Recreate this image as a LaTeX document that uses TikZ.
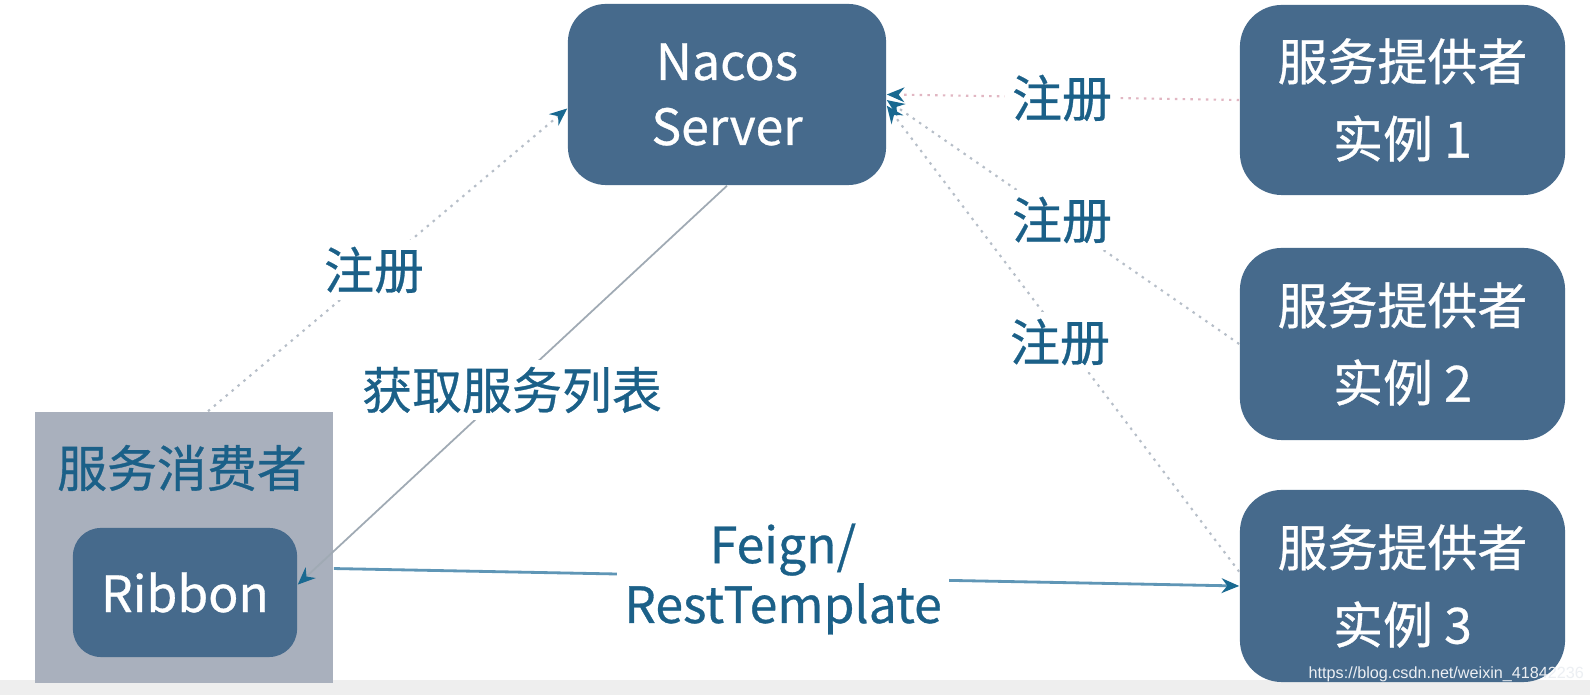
\documentclass[tikz,border=0pt]{standalone}
\usepackage{fontspec}
\setmainfont{Noto Sans CJK SC}[FakeBold=0.6]
\newfontfamily\wmfont{Liberation Sans}
\usetikzlibrary{arrows.meta}
\definecolor{boxblue}{RGB}{70,106,140}
\definecolor{consgrey}{RGB}{169,176,189}
\definecolor{labelblue}{RGB}{27,96,136}
\definecolor{dotgrey}{RGB}{182,190,200}
\definecolor{dotpink}{RGB}{225,182,194}
\definecolor{arrowteal}{RGB}{25,105,145}
\definecolor{feignline}{RGB}{95,150,182}
\definecolor{listline}{RGB}{160,170,180}
\definecolor{bandgrey}{RGB}{238,238,238}
\definecolor{wmcol}{RGB}{236,239,243}
\begin{document}
\begin{tikzpicture}[x=0.01cm,y=-0.01cm,
  bluebox/.style={rectangle, rounded corners=0.38cm, fill=boxblue, text=white, align=center, inner sep=0pt},
  lbl/.style={fill=white, text=labelblue, inner sep=2pt, font=\fontsize{14.2}{17}\selectfont, align=center},
  tip/.style={-{Stealth[length=5pt,width=4.2pt,color=arrowteal]}},
  dots/.style={tip, draw=dotgrey, line width=0.6pt, dash pattern=on 0.7pt off 1.5pt},
]
\useasboundingbox (0,0) rectangle (1590,695);
\fill[white] (0,0) rectangle (1590,695);
\fill[bandgrey] (0,680) rectangle (1590,695);

% nodes
\node[bluebox, minimum width=3.18cm, minimum height=1.81cm, font=\fontsize{14.2}{18.5}\selectfont] (nacos) at (727,94.5) {Nacos\\Server};
\node[bluebox, rounded corners=0.42cm, minimum width=3.25cm, minimum height=1.90cm, font=\fontsize{14.2}{22}\selectfont] (p1) at (1402.5,100) {服务提供者\\实例 1};
\node[bluebox, rounded corners=0.42cm, minimum width=3.25cm, minimum height=1.92cm, font=\fontsize{14.2}{22}\selectfont] (p2) at (1402.5,344) {服务提供者\\实例 2};
\node[bluebox, rounded corners=0.42cm, minimum width=3.25cm, minimum height=1.92cm, font=\fontsize{14.2}{22}\selectfont] (p3) at (1402.5,586) {服务提供者\\实例 3};
\node[rectangle, fill=consgrey, minimum width=2.98cm, minimum height=2.71cm, inner sep=0pt] (cons) at (184,547.5) {};
\node[text=labelblue, font=\fontsize{14.2}{17}\selectfont, inner sep=0pt] (constitle) at (182,468) {服务消费者};
\node[bluebox, rounded corners=0.28cm, minimum width=2.24cm, minimum height=1.29cm, font=\fontsize{14.2}{17}\selectfont] (ribbon) at (185,592.5) {Ribbon};

% connectors
\draw[dots] (cons.80) -- (nacos.185);
\draw[tip, draw=listline, line width=0.5pt] (nacos.south) -- (ribbon.4);
\draw[tip, draw=feignline, line width=0.8pt] (cons.-8) -- (p3.west);
\draw[dots, draw=dotpink] (p1.west) -- (nacos.east);
\draw[dots] (p2.west) -- (nacos.-2);
\draw[dots] (p3.175) -- (nacos.-4);

% labels
\node[lbl] (l1) at (374,270) {注册};
\node[lbl] (l2) at (512,390) {获取服务列表};
\node[lbl] (r1) at (1062,98) {注册};
\node[lbl] (r2) at (1062,220) {注册};
\node[lbl] (r3) at (1060,342) {注册};
\node[lbl] (feign) at (783,579) {Feign/\\RestTemplate};

% watermark
\node[text=wmcol, font=\wmfont\fontsize{4.6}{5}\selectfont, inner sep=0pt, anchor=west] (wm) at (1308,674) {https://blog.csdn.net/weixin\_41842236};
\end{tikzpicture}
\end{document}
